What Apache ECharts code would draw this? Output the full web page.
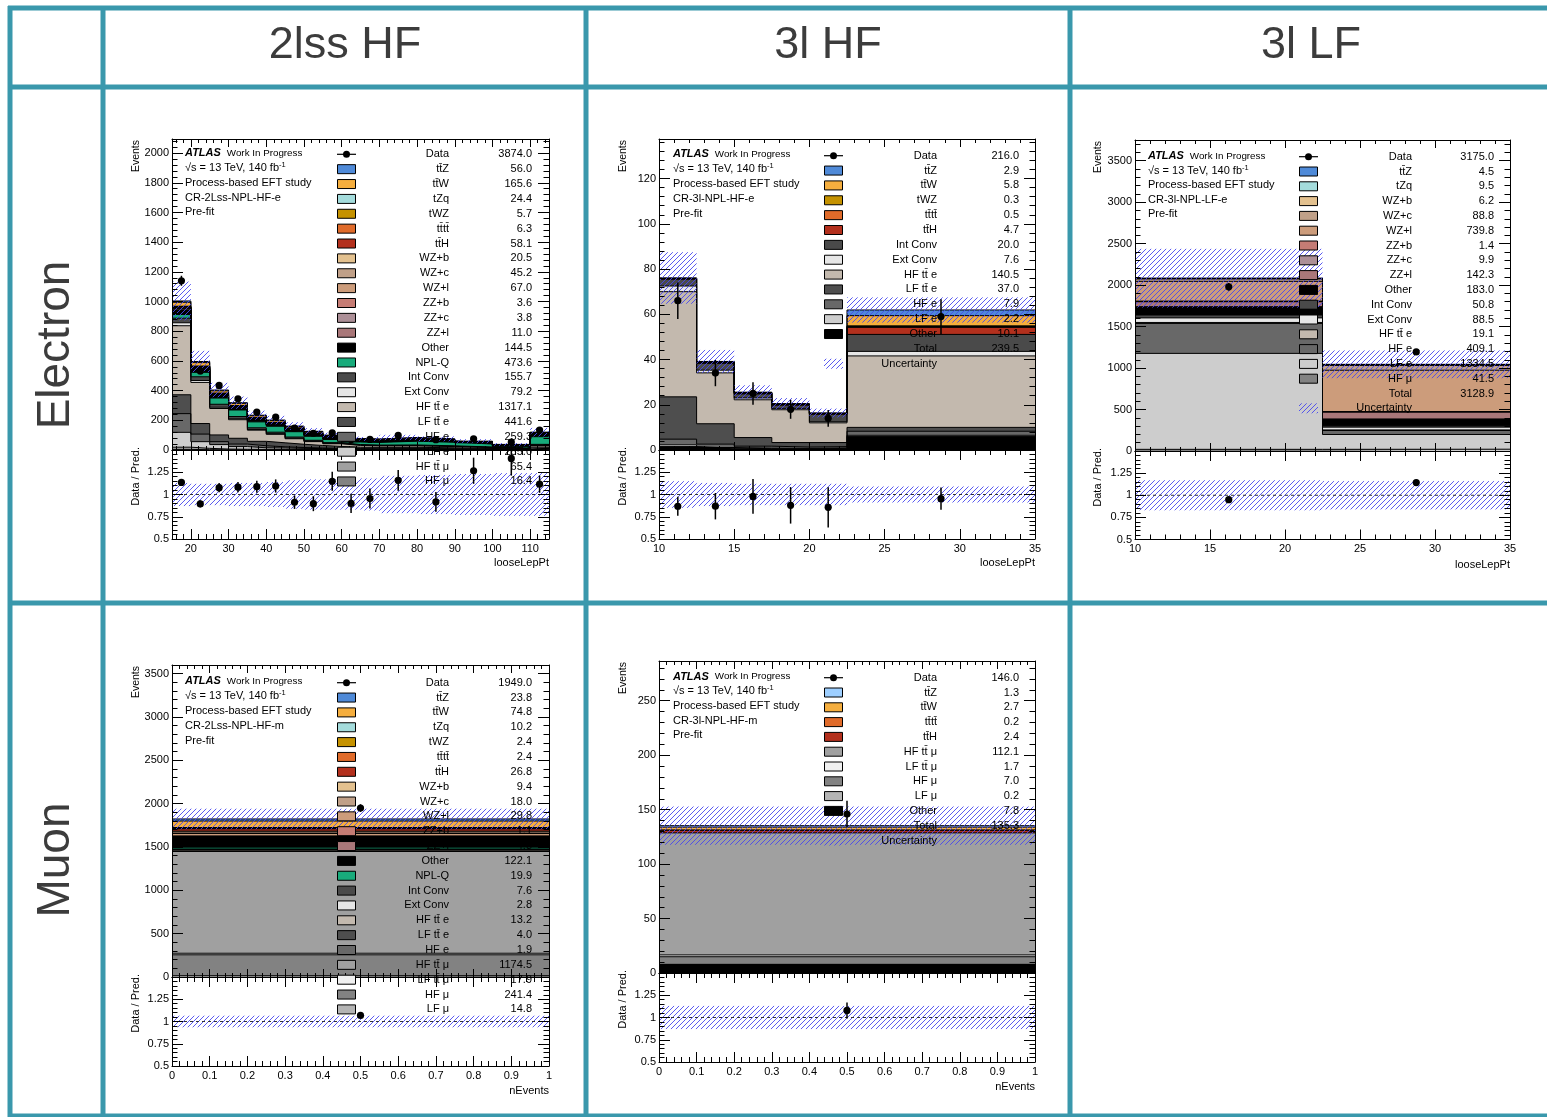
<!DOCTYPE html>
<html>
<head>
<meta charset="utf-8">
<script src="https://cdn.jsdelivr.net/npm/echarts@6/dist/echarts.min.js"></script>
<style>
  html, body { margin: 0; padding: 0; background: #fff; }
  #c { width: 1547px; height: 1117px; }
</style>
</head>
<body>
<div id="c"></div>
<script>
// ---------------- CR-2Lss-NPL-HF-e (looseLepPt) ----------------
const edges_2lssE   = [15, 20, 25, 30, 35, 40, 45, 50, 55, 60, 65, 70, 80, 90, 100, 110, 115];
const data_2lssE    = [1140, 533, 435, 345, 255, 221, 147, 113, 115, 70, 71, 98, 69, 75, 53, 134];
const dataErr_2lssE = [33.8, 23.1, 20.9, 18.6, 16.0, 14.9, 12.1, 10.6, 10.7, 8.4, 8.4, 9.9, 8.3, 8.7, 7.3, 11.6];
const unc_2lssE     = [0.13, 0.12, 0.12, 0.13, 0.13, 0.14, 0.16, 0.17, 0.17, 0.17, 0.18, 0.21, 0.22, 0.23, 0.24, 0.24];
const hfmu_2lssE    = [4, 2.2, 1.5, 1, 1, 1, 0.8, 0.7, 0.6, 0.5, 0.5, 0.6, 0.5, 0.4, 0.3, 0.8];
const hfttmu_2lssE  = [15, 9, 5, 4, 3.5, 3.5, 3, 2.8, 2.5, 2, 2, 2.5, 2.3, 2, 1.3, 5];
const lfe_2lssE     = [100, 45, 30, 18, 10.5, 9, 7, 6, 5, 4, 3.5, 4, 3.5, 2.5, 1.5, 5.5];
const hfe_2lssE     = [126, 51, 20, 17, 13.5, 8, 6, 4, 3, 2.3, 1.8, 2, 1.5, 1, 0.7, 1.5];
const lftte_2lssE   = [127, 71, 45, 39, 30, 27, 22, 17, 13, 10, 10, 9, 7, 4.5, 2.5, 7.6];
const hftte_2lssE   = [465, 277, 178, 125, 75, 57, 37, 26, 18, 12, 10, 10, 8, 5.5, 3.5, 10.1];
const extconv_2lssE = [20, 13, 8.5, 6.5, 5, 4.5, 3.5, 3, 2.5, 2, 2, 2, 1.8, 1.5, 1, 2.4];
const intconv_2lssE = [31, 25, 20, 15, 11, 10, 8, 6, 5, 4, 3.5, 4, 3.5, 2.8, 1.8, 5.1];
const nplq_2lssE    = [25, 30, 42, 44, 40, 40, 36, 27, 21, 17, 18, 25, 24, 20, 13, 51.6];
const other_2lssE   = [24, 17, 13, 11.5, 10, 9, 8.5, 7.5, 6.5, 5, 5, 5.5, 5, 4.3, 3, 9.7];
const zzl_2lssE     = [1.5, 1.2, 0.8, 0.9, 0.8, 0.8, 0.7, 0.6, 0.5, 0.4, 0.4, 0.5, 0.5, 0.4, 0.3, 0.7];
const zzc_2lssE     = [0.5, 0.4, 0.3, 0.3, 0.3, 0.3, 0.2, 0.2, 0.2, 0.15, 0.15, 0.2, 0.2, 0.1, 0.1, 0.2];
const zzb_2lssE     = [0.4, 0.4, 0.3, 0.3, 0.3, 0.3, 0.2, 0.2, 0.2, 0.15, 0.15, 0.15, 0.15, 0.1, 0.1, 0.2];
const wzl_2lssE     = [8.5, 7, 5.5, 5, 5, 4.8, 4.5, 4, 3.6, 3, 2.8, 3.2, 3, 2.4, 1.5, 3.2];
const wzc_2lssE     = [6, 4.5, 3.6, 3.5, 3.3, 3.2, 3, 2.7, 2.4, 2, 1.9, 2.1, 2, 1.6, 1, 2.4];
const wzb_2lssE     = [2.5, 2, 1.7, 1.7, 1.5, 1.5, 1.4, 1.3, 1.1, 0.9, 0.8, 0.9, 0.9, 0.7, 0.4, 1.2];
const tth_2lssE     = [7.6, 6, 5, 4.5, 4.3, 4, 3.7, 3.4, 3, 2.5, 2.4, 2.6, 2.4, 2, 1.3, 3.4];
const tttt_2lssE    = [0.5, 0.5, 0.5, 0.5, 0.5, 0.4, 0.4, 0.4, 0.3, 0.3, 0.3, 0.4, 0.3, 0.3, 0.2, 0.5];
const twz_2lssE     = [0.5, 0.5, 0.5, 0.4, 0.4, 0.4, 0.4, 0.3, 0.3, 0.3, 0.3, 0.3, 0.3, 0.2, 0.1, 0.5];
const tzq_2lssE     = [3.5, 3, 2.2, 2, 1.8, 1.7, 1.5, 1.4, 1.2, 1, 0.9, 1, 0.9, 0.8, 0.5, 1];
const ttw_2lssE     = [26.5, 23, 15, 14, 12.5, 11.3, 9.7, 8.8, 7.8, 6.3, 6, 6.4, 5.5, 4.5, 2.8, 5.5];
const ttz_2lssE     = [9, 7.5, 5.5, 4.5, 4.3, 4, 3.5, 2.7, 2.4, 2, 2, 2.2, 2, 1.6, 0.8, 2];

// ---------------- CR-3l-NPL-HF-e (looseLepPt) ----------------
const edges_3lHFE   = [10, 12.5, 15, 17.5, 20, 22.5, 35];
const data_3lHFE    = [66, 34, 25, 18, 14, 59];
const dataErr_3lHFE = [8.1, 5.8, 5.0, 4.2, 3.7, 7.7];
const unc_3lHFE     = [0.15, 0.13, 0.12, 0.12, 0.12, 0.09];
const other_3lHFE   = [1.5, 0.8, 0.6, 0.5, 0.7, 6.0];
const lfe_3lHFE     = [0.8, 0.3, 0.2, 0.2, 0.2, 0.5];
const hfe_3lHFE     = [2.5, 1.5, 0.9, 0.6, 0.6, 1.8];
const lftte_3lHFE   = [18.7, 9, 3.8, 2, 1.8, 1.7];
const hftte_3lHFE   = [46.5, 22.5, 16.7, 14.5, 8.7, 31.6];
const extconv_3lHFE = [2.5, 1.2, 0.8, 0.6, 0.5, 2.0];
const intconv_3lHFE = [3.0, 3.0, 1.8, 1.4, 3.3, 7.5];
const tth_3lHFE     = [0.3, 0.4, 0.3, 0.3, 0.3, 3.1];
const tttt_3lHFE    = [0, 0.05, 0.05, 0, 0, 0.4];
const twz_3lHFE     = [0, 0, 0, 0, 0, 0.3];
const ttw_3lHFE     = [0.2, 0.3, 0.3, 0.3, 0.2, 4.5];
const ttz_3lHFE     = [0.05, 0.1, 0.1, 0.1, 0.05, 2.5];

// ---------------- CR-3l-NPL-LF-e (looseLepPt) ----------------
const edges_3lLFE   = [10, 22.5, 35];
const data_3lLFE    = [1980, 1195];
const dataErr_3lLFE = [44.5, 34.6];
const unc_3lLFE     = [0.17, 0.16];
const hfmu_3lLFE    = [20, 21.5];
const lfe_3lLFE     = [1157, 177.5];
const hfe_3lLFE     = [361, 48.1];
const hftte_3lLFE   = [12, 7.1];
const extconv_3lLFE = [55, 33.5];
const intconv_3lLFE = [35, 15.8];
const other_3lLFE   = [100, 83];
const zzl_3lLFE     = [60, 82.3];
const zzc_3lLFE     = [5, 4.9];
const zzb_3lLFE     = [0.7, 0.7];
const wzl_3lLFE     = [240, 499.8];
const wzc_3lLFE     = [30, 58.8];
const wzb_3lLFE     = [2, 4.2];
const tzq_3lLFE     = [4, 5.5];
const ttz_3lLFE     = [2, 2.5];

// ---------------- CR-2Lss-NPL-HF-m (nEvents) ----------------
const edges_2lssM   = [0, 1];
const data_2lssM    = [1949];
const dataErr_2lssM = [44.1];
const unc_2lssM     = [0.065];
const lfmu_2lssM    = [14.8];
const hfmu_2lssM    = [241.4];
const lfttmu_2lssM  = [17.9];
const hfttmu_2lssM  = [1174.5];
const hfe_2lssM     = [1.9];
const lftte_2lssM   = [4.0];
const hftte_2lssM   = [13.2];
const extconv_2lssM = [2.8];
const intconv_2lssM = [7.6];
const nplq_2lssM    = [19.9];
const other_2lssM   = [122.1];
const zzl_2lssM     = [4.8];
const zzb_2lssM     = [1.1];
const wzl_2lssM     = [29.8];
const wzc_2lssM     = [18.0];
const wzb_2lssM     = [9.4];
const tth_2lssM     = [26.8];
const tttt_2lssM    = [2.4];
const twz_2lssM     = [2.4];
const tzq_2lssM     = [10.2];
const ttw_2lssM     = [74.8];
const ttz_2lssM     = [23.8];

// ---------------- CR-3l-NPL-HF-m (nEvents) ----------------
const edges_3lHFM   = [0, 1];
const data_3lHFM    = [146];
const dataErr_3lHFM = [12.1];
const unc_3lHFM     = [0.13];
const other_3lHFM   = [7.76];
const lfmu_3lHFM    = [0.2];
const hfmu_3lHFM    = [6.98];
const lfttmu_3lHFM  = [1.66];
const hfttmu_3lHFM  = [112.06];
const tth_3lHFM     = [2.43];
const tttt_3lHFM    = [0.2];
const ttw_3lHFM     = [2.66];
const ttz_3lHFM     = [1.33];

// ---------------- sample names and fills ----------------
const LABEL = {
  ttZ: 'tt\u0304Z', ttW: 'tt\u0304W', tZq: 'tZq', tWZ: 'tWZ', tttt: 'tt\u0304tt\u0304', ttH: 'tt\u0304H',
  WZb: 'WZ+b', WZc: 'WZ+c', WZl: 'WZ+l', ZZb: 'ZZ+b', ZZc: 'ZZ+c', ZZl: 'ZZ+l',
  Other: 'Other', NPLQ: 'NPL-Q', IntConv: 'Int Conv', ExtConv: 'Ext Conv',
  HFtte: 'HF tt\u0304 e', LFtte: 'LF tt\u0304 e', HFe: 'HF e', LFe: 'LF e',
  HFttmu: 'HF tt\u0304 \u03bc', LFttmu: 'LF tt\u0304 \u03bc', HFmu: 'HF \u03bc', LFmu: 'LF \u03bc'
};
const FILL = {
  ttZ: '#4f8ad8', ttW: '#f5ae3e', tZq: '#a4dcdc', tWZ: '#c59200', tttt: '#e06b2a', ttH: '#b3301d',
  WZb: '#e3c18f', WZc: '#c0a088', WZl: '#cc9c7b', ZZb: '#c57c74', ZZc: '#ac8f97', ZZl: '#a97779',
  Other: '#000000', NPLQ: '#18ab7b', IntConv: '#4a4a4a', ExtConv: '#e6e6e6', HFtte: '#c3b9ae',
  LFtte: '#4e4e4e', HFe: '#686868', LFe: '#cdcdcd', HFttmu: '#a0a0a0', LFttmu: '#f0f0f0',
  HFmu: '#828282', LFmu: '#b4b4b4'
};

const FONT = '"Liberation Sans", Arial, Helvetica, sans-serif';
const TEAL = '#3a98ac';
const HATCH_COLOR = 'rgba(72,72,238,0.9)';
const HATCH_STEP = 5;

// ---------------- panel definitions (layout kept apart from the numbers) ----------------
const PANELS = [
  {
    edges: edges_2lssE, data: data_2lssE, dataErr: dataErr_2lssE, unc: unc_2lssE,
    stack: [['HFmu', hfmu_2lssE], ['HFttmu', hfttmu_2lssE], ['LFe', lfe_2lssE], ['HFe', hfe_2lssE],
            ['LFtte', lftte_2lssE], ['HFtte', hftte_2lssE], ['ExtConv', extconv_2lssE], ['IntConv', intconv_2lssE],
            ['NPLQ', nplq_2lssE], ['Other', other_2lssE], ['ZZl', zzl_2lssE], ['ZZc', zzc_2lssE], ['ZZb', zzb_2lssE],
            ['WZl', wzl_2lssE], ['WZc', wzc_2lssE], ['WZb', wzb_2lssE], ['ttH', tth_2lssE], ['tttt', tttt_2lssE],
            ['tWZ', twz_2lssE], ['tZq', tzq_2lssE], ['ttW', ttw_2lssE], ['ttZ', ttz_2lssE]],
    region: 'CR-2Lss-NPL-HF-e', xTitle: 'looseLepPt',
    frame: { l: 172, r: 549, t: 139, m: 450, b: 539 },
    xr: { min: 15, max: 115, major: 10, minor: 2 }, yr: { max: 2095, major: 200, minor: 40 },
    legend: { sx: 337, lr: 449, vr: 532, y0: 154.3, dy: 14.87, clip: 488 },
    info: { x: 185, y0: 153.3, dy: 14.75 }, titleX: 136, xTitleY: 563, colors: {}
  },
  {
    edges: edges_3lHFE, data: data_3lHFE, dataErr: dataErr_3lHFE, unc: unc_3lHFE,
    stack: [['Other', other_3lHFE], ['LFe', lfe_3lHFE], ['HFe', hfe_3lHFE], ['LFtte', lftte_3lHFE],
            ['HFtte', hftte_3lHFE], ['ExtConv', extconv_3lHFE], ['IntConv', intconv_3lHFE], ['ttH', tth_3lHFE],
            ['tttt', tttt_3lHFE], ['tWZ', twz_3lHFE], ['ttW', ttw_3lHFE], ['ttZ', ttz_3lHFE]],
    region: 'CR-3l-NPL-HF-e', xTitle: 'looseLepPt',
    frame: { l: 659, r: 1035, t: 139, m: 450, b: 539 },
    xr: { min: 10, max: 35, major: 5, minor: 1 }, yr: { max: 137.5, major: 20, minor: 4 },
    legend: { sx: 824, lr: 937, vr: 1019, y0: 155.7, dy: 14.86, clip: 600 },
    info: { x: 673, y0: 153.8, dy: 15.0 }, titleX: 623, xTitleY: 563, colors: {}
  },
  {
    edges: edges_3lLFE, data: data_3lLFE, dataErr: dataErr_3lLFE, unc: unc_3lLFE,
    stack: [['HFmu', hfmu_3lLFE], ['LFe', lfe_3lLFE], ['HFe', hfe_3lLFE], ['HFtte', hftte_3lLFE],
            ['ExtConv', extconv_3lLFE], ['IntConv', intconv_3lLFE], ['Other', other_3lLFE], ['ZZl', zzl_3lLFE],
            ['ZZc', zzc_3lLFE], ['ZZb', zzb_3lLFE], ['WZl', wzl_3lLFE], ['WZc', wzc_3lLFE], ['WZb', wzb_3lLFE],
            ['tZq', tzq_3lLFE], ['ttZ', ttz_3lLFE]],
    region: 'CR-3l-NPL-LF-e', xTitle: 'looseLepPt',
    frame: { l: 1135, r: 1510, t: 140, m: 451, b: 539.5 },
    xr: { min: 10, max: 35, major: 5, minor: 1 }, yr: { max: 3750, major: 500, minor: 100 },
    legend: { sx: 1299, lr: 1412, vr: 1494, y0: 156.7, dy: 14.8, clip: 600 },
    info: { x: 1148, y0: 156, dy: 14.6 }, titleX: 1098, xTitleY: 565, colors: {}
  },
  {
    edges: edges_2lssM, data: data_2lssM, dataErr: dataErr_2lssM, unc: unc_2lssM,
    stack: [['LFmu', lfmu_2lssM], ['HFmu', hfmu_2lssM], ['LFttmu', lfttmu_2lssM], ['HFttmu', hfttmu_2lssM],
            ['HFe', hfe_2lssM], ['LFtte', lftte_2lssM], ['HFtte', hftte_2lssM], ['ExtConv', extconv_2lssM],
            ['IntConv', intconv_2lssM], ['NPLQ', nplq_2lssM], ['Other', other_2lssM], ['ZZl', zzl_2lssM],
            ['ZZb', zzb_2lssM], ['WZl', wzl_2lssM], ['WZc', wzc_2lssM], ['WZb', wzb_2lssM], ['ttH', tth_2lssM],
            ['tttt', tttt_2lssM], ['tWZ', twz_2lssM], ['tZq', tzq_2lssM], ['ttW', ttw_2lssM], ['ttZ', ttz_2lssM]],
    region: 'CR-2Lss-NPL-HF-m', xTitle: 'nEvents',
    frame: { l: 172, r: 549, t: 665, m: 977, b: 1066 },
    xr: { min: 0, max: 1, major: 0.1, minor: 0.02 }, yr: { max: 3600, major: 500, minor: 100 },
    legend: { sx: 337, lr: 449, vr: 532, y0: 682.7, dy: 14.85, clip: 1016 },
    info: { x: 185, y0: 681, dy: 15.0 }, titleX: 136, xTitleY: 1091, colors: {}
  },
  {
    edges: edges_3lHFM, data: data_3lHFM, dataErr: dataErr_3lHFM, unc: unc_3lHFM,
    stack: [['Other', other_3lHFM], ['LFmu', lfmu_3lHFM], ['HFmu', hfmu_3lHFM], ['LFttmu', lfttmu_3lHFM],
            ['HFttmu', hfttmu_3lHFM], ['ttH', tth_3lHFM], ['tttt', tttt_3lHFM], ['ttW', ttw_3lHFM], ['ttZ', ttz_3lHFM]],
    region: 'CR-3l-NPL-HF-m', xTitle: 'nEvents',
    frame: { l: 659, r: 1035, t: 661, m: 973, b: 1062 },
    xr: { min: 0, max: 1, major: 0.1, minor: 0.02 }, yr: { max: 286.5, major: 50, minor: 10 },
    legend: { sx: 824, lr: 937, vr: 1019, y0: 677.7, dy: 14.8, clip: 1100 },
    info: { x: 673, y0: 676.7, dy: 14.6 }, titleX: 623, xTitleY: 1087, colors: { ttZ: '#9ecfff' }
  }
];

// ---------------- helpers ----------------
function ticks(min, max, step) {
  const out = [];
  const k0 = Math.ceil(min / step - 1e-9), k1 = Math.floor(max / step + 1e-9);
  for (let k = k0; k <= k1; k++) out.push(+(k * step).toFixed(6));
  return out;
}
function minorTicks(min, max, step, major) {
  return ticks(min, max, step).filter(v => Math.abs(v / major - Math.round(v / major)) > 1e-6);
}
const sum = a => a.reduce((s, v) => s + v, 0);
const fmt1 = v => (Math.round(v * 10) / 10).toFixed(1);
const fmtTick = v => String(+v.toFixed(6));

// "////" hatch lines filling a pixel rectangle, aligned to a global grid
function hatchLines(x0, y0, x1, y1, z) {
  const out = [];
  const c0 = Math.ceil((x0 + y0) / HATCH_STEP) * HATCH_STEP;
  for (let c = c0; c <= x1 + y1; c += HATCH_STEP) {
    const xs = Math.max(x0, c - y1), xe = Math.min(x1, c - y0);
    if (xe - xs > 0.05) {
      const el = { type: 'line', silent: true, shape: { x1: xs, y1: c - xs, x2: xe, y2: c - xe },
                   style: { stroke: HATCH_COLOR, lineWidth: 1 } };
      if (z !== undefined) el.z = z;
      out.push(el);
    }
  }
  return out;
}

const grids = [], xAxis = [], yAxis = [], series = [], elements = [];

// one axis drawn twice: long major ticks (+frame line, labels) and short minor ticks
function axisPair(list, gi, pos, min, max, majors, minors, majLen, minLen, labelVals, margin) {
  const base = {
    gridIndex: gi, type: 'value', position: pos, min: min, max: max, z: 5, silent: true,
    splitLine: { show: false }, axisPointer: { show: false }
  };
  list.push(Object.assign({}, base, {
    axisLine: { show: true, onZero: false, lineStyle: { color: '#000', width: 1 } },
    axisTick: { show: true, inside: true, length: majLen, customValues: majors, lineStyle: { color: '#000', width: 1 } },
    axisLabel: labelVals
      ? { show: true, customValues: labelVals, formatter: fmtTick, margin: margin, color: '#000', fontSize: 11, fontFamily: FONT }
      : { show: false }
  }));
  list.push(Object.assign({}, base, {
    axisLine: { show: false, onZero: false },
    axisTick: { show: true, inside: true, length: minLen, customValues: minors, lineStyle: { color: '#000', width: 1 } },
    axisLabel: { show: false }
  }));
  return list.length - 2;
}

function text(x, y, str, o) {
  o = o || {};
  elements.push({
    type: 'text', x: x, y: y, rotation: o.rot || 0, z: 50, silent: true,
    style: {
      text: str, fill: o.color || '#000', fontSize: o.size || 11, fontFamily: o.family || FONT,
      fontWeight: o.weight || 'normal', fontStyle: o.style || 'normal',
      align: o.align || 'left', verticalAlign: o.valign || 'middle', rich: o.rich
    }
  });
}

function hatchSeries(xi, yi, rects, z) {
  return {
    type: 'custom', xAxisIndex: xi, yAxisIndex: yi, z: z, silent: true, clip: true, animation: false,
    data: rects,
    renderItem: function (params, api) {
      const a = api.coord([api.value(0), api.value(3)]);
      const b = api.coord([api.value(1), api.value(2)]);
      return { type: 'group', children: hatchLines(a[0], a[1], b[0], b[1]) };
    }
  };
}

function pointSeries(xi, yi, pts) {
  return {
    type: 'custom', xAxisIndex: xi, yAxisIndex: yi, z: 6, silent: true, clip: false, animation: false,
    data: pts,
    renderItem: function (params, api) {
      const c = api.coord([api.value(0), api.value(1)]);
      const lo = api.coord([api.value(0), api.value(1) - api.value(2)]);
      const hi = api.coord([api.value(0), api.value(1) + api.value(2)]);
      return {
        type: 'group', children: [
          { type: 'line', shape: { x1: c[0], y1: lo[1], x2: c[0], y2: hi[1] }, style: { stroke: '#000', lineWidth: 1.5 } },
          { type: 'circle', shape: { cx: c[0], cy: c[1], r: 3.6 }, style: { fill: '#000' } }
        ]
      };
    }
  };
}

// ---------------- build every panel ----------------
PANELS.forEach(p => {
  const f = p.frame, n = p.edges.length - 1;
  const gm = grids.push({ left: f.l, top: f.t, width: f.r - f.l, height: f.m - f.t, outerBoundsMode: 'none' }) - 1;
  const gr = grids.push({ left: f.l, top: f.m, width: f.r - f.l, height: f.b - f.m, outerBoundsMode: 'none' }) - 1;

  const xMaj = ticks(p.xr.min, p.xr.max, p.xr.major);
  const xMin = minorTicks(p.xr.min, p.xr.max, p.xr.minor, p.xr.major);
  const yMaj = ticks(0, p.yr.max, p.yr.major);
  const yMin = minorTicks(0, p.yr.max, p.yr.minor, p.yr.major);
  const rMaj = ticks(0.5, 1.5, 0.25);
  const rMin = minorTicks(0.5, 1.5, 0.05, 0.25);

  const xm = axisPair(xAxis, gm, 'bottom', p.xr.min, p.xr.max, xMaj, xMin, 8, 4, null);
  axisPair(xAxis, gm, 'top', p.xr.min, p.xr.max, xMaj, xMin, 8, 4, null);
  const ym = axisPair(yAxis, gm, 'left', 0, p.yr.max, yMaj, yMin, 11, 5.5, yMaj, 3);
  axisPair(yAxis, gm, 'right', 0, p.yr.max, yMaj, yMin, 11, 5.5, null);

  const xq = axisPair(xAxis, gr, 'bottom', p.xr.min, p.xr.max, xMaj, xMin, 10, 5, xMaj, 4);
  axisPair(xAxis, gr, 'top', p.xr.min, p.xr.max, xMaj, xMin, 10, 5, null);
  const yq = axisPair(yAxis, gr, 'left', 0.5, 1.5, rMaj, rMin, 11, 5.5, [0.5, 0.75, 1, 1.25], 3);
  axisPair(yAxis, gr, 'right', 0.5, 1.5, rMaj, rMin, 11, 5.5, null);

  // cumulative stack, bottom -> top
  const cum = [];
  let run = new Array(n).fill(0);
  p.stack.forEach(([key, arr]) => {
    run = run.map((v, j) => v + arr[j]);
    cum.push(run.slice());
  });
  const total = cum[cum.length - 1];

  // draw the highest cumulative first so each lower layer paints over it
  for (let s = p.stack.length - 1; s >= 0; s--) {
    const key = p.stack[s][0];
    const c = cum[s];
    const pts = [];
    for (let j = 0; j < n; j++) pts.push([p.edges[j], c[j]]);
    pts.push([p.edges[n], c[n - 1]]);
    series.push({
      type: 'line', xAxisIndex: xm, yAxisIndex: ym, data: pts, step: 'end', symbol: 'none',
      silent: true, animation: false, z: 2, clip: true,
      lineStyle: { color: '#000', width: 1 },
      areaStyle: { color: p.colors[key] || FILL[key], opacity: 1 }
    });
  }

  const centers = [];
  for (let j = 0; j < n; j++) centers.push((p.edges[j] + p.edges[j + 1]) / 2);

  // uncertainty band on the stack
  series.push(hatchSeries(xm, ym, total.map((t, j) => [p.edges[j], p.edges[j + 1], t * (1 - p.unc[j]), t * (1 + p.unc[j])]), 3));
  // data points
  series.push(pointSeries(xm, ym, p.data.map((d, j) => [centers[j], d, p.dataErr[j]])));

  // ratio pad
  series.push(hatchSeries(xq, yq, p.unc.map((u, j) => [p.edges[j], p.edges[j + 1], 1 - u, 1 + u]), 3));
  series.push({
    type: 'line', xAxisIndex: xq, yAxisIndex: yq, data: [[p.xr.min, 1], [p.xr.max, 1]], symbol: 'none',
    silent: true, animation: false, z: 4, lineStyle: { color: '#333', width: 1, type: [3, 3] }
  });
  series.push(pointSeries(xq, yq, p.data.map((d, j) => [centers[j], d / total[j], p.dataErr[j] / total[j]])));

  // axis titles
  text(p.titleX, f.t + 1, 'Events', { rot: Math.PI / 2, align: 'right', size: 10.5 });
  text(p.titleX, f.m - 3, 'Data / Pred.', { rot: Math.PI / 2, align: 'right', size: 11 });
  text(f.r, p.xTitleY, p.xTitle, { align: 'right', size: 11 });

  // ATLAS label block
  const I = p.info;
  text(I.x, I.y0, '{a|ATLAS}{w|Work In Progress}', {
    rich: {
      a: { fontSize: 11, fontWeight: 'bold', fontStyle: 'italic', fontFamily: FONT, fill: '#000', padding: [0, 6, 0, 0] },
      w: { fontSize: 9.8, fontFamily: FONT, fill: '#000' }
    }
  });
  text(I.x, I.y0 + I.dy, '{m|\u221As = 13 TeV, 140 fb}{s|-1}', {
    rich: {
      m: { fontSize: 11, fontFamily: FONT, fill: '#000', lineHeight: 14, verticalAlign: 'middle' },
      s: { fontSize: 7.5, fontFamily: FONT, fill: '#000', verticalAlign: 'top' }
    }
  });
  text(I.x, I.y0 + 2 * I.dy, 'Process-based EFT study');
  text(I.x, I.y0 + 3 * I.dy, p.region);
  text(I.x, I.y0 + 4 * I.dy, 'Pre-fit');

  // legend: Data, samples from top of stack down, Total, Uncertainty
  const L = p.legend;
  const rows = [{ kind: 'data', label: 'Data', value: fmt1(sum(p.data)) }];
  for (let s = p.stack.length - 1; s >= 0; s--) {
    const [key, arr] = p.stack[s];
    rows.push({ kind: 'fill', key: key, label: LABEL[key], value: fmt1(sum(arr)) });
  }
  rows.push({ kind: 'total', label: 'Total', value: fmt1(sum(total)) });
  rows.push({ kind: 'unc', label: 'Uncertainty', value: '' });

  rows.forEach((r, k) => {
    const y = L.y0 + k * L.dy;
    if (y > L.clip) return;
    if (r.kind === 'data') {
      elements.push({ type: 'line', z: 50, silent: true, shape: { x1: L.sx, y1: y, x2: L.sx + 19, y2: y }, style: { stroke: '#000', lineWidth: 1.2 } });
      elements.push({ type: 'circle', z: 50, silent: true, shape: { cx: L.sx + 9.5, cy: y, r: 3.5 }, style: { fill: '#000' } });
    } else if (r.kind === 'fill') {
      elements.push({ type: 'rect', z: 50, silent: true, shape: { x: L.sx + 0.5, y: y - 4.5, width: 18, height: 9 },
        style: { fill: p.colors[r.key] || FILL[r.key], stroke: '#000', lineWidth: 1 } });
    } else if (r.kind === 'unc') {
      hatchLines(L.sx, y - 5, L.sx + 19, y + 5, 50).forEach(el => elements.push(el));
    }
    text(L.lr, y, r.label, { align: 'right' });
    if (r.value) text(L.vr, y, r.value, { align: 'right' });
  });
});

// ---------------- table frame, column and row headers ----------------
const hLines = [8, 87, 603, 1116];
const vLines = [10, 103, 586, 1070];
hLines.forEach(y => elements.push({ type: 'rect', z: 60, silent: true, shape: { x: 8, y: y - 2.5, width: 1547, height: 5 }, style: { fill: TEAL } }));
vLines.forEach(x => elements.push({ type: 'rect', z: 60, silent: true, shape: { x: x - 2.5, y: 6, width: 5, height: 1117 }, style: { fill: TEAL } }));

const COLS = ['2lss HF', '3l HF', '3l LF'];
const COL_X = [345, 828, 1311];
const ROWS = ['Electron', 'Muon'];
const ROW_Y = [345, 860];
COLS.forEach((c, i) => text(COL_X[i], 46, c, { align: 'center', size: 45, color: '#3c3c3c' }));
ROWS.forEach((r, i) => text(56, ROW_Y[i], r, { rot: Math.PI / 2, align: 'center', size: 46, color: '#3c3c3c' }));

const chart = echarts.init(document.getElementById('c'), null, { renderer: 'canvas', width: 1547, height: 1117 });
chart.setOption({
  animation: false,
  backgroundColor: '#ffffff',
  grid: grids,
  xAxis: xAxis,
  yAxis: yAxis,
  series: series,
  graphic: { elements: elements }
});
</script>
</body>
</html>
